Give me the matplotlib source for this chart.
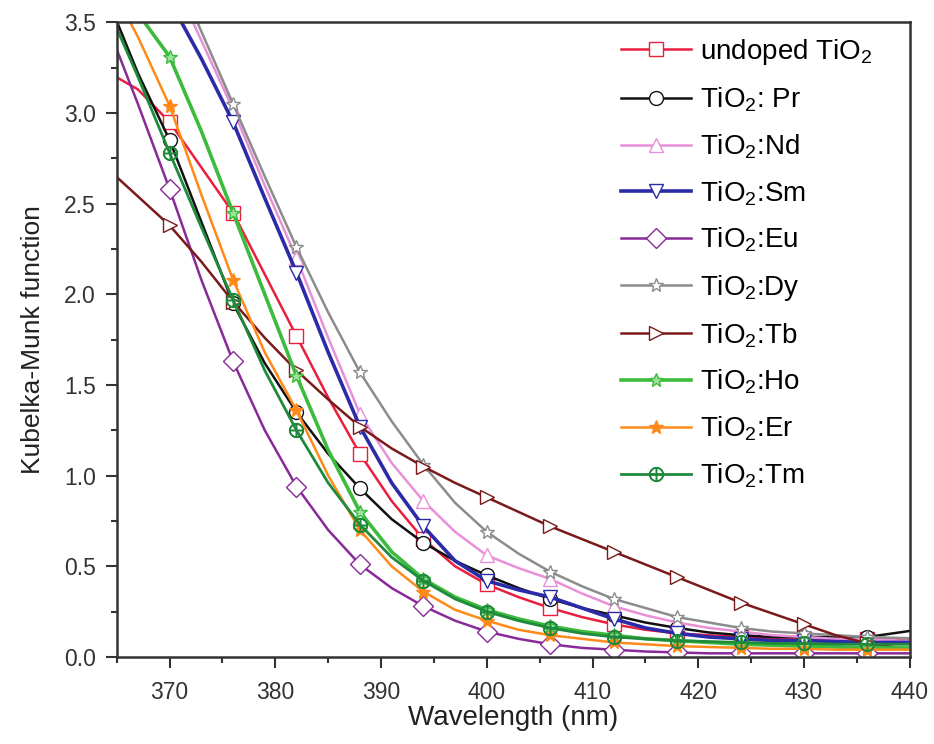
import numpy as np
import matplotlib
matplotlib.use("Agg")
import matplotlib.pyplot as plt
from matplotlib.ticker import MultipleLocator

plt.rcParams['font.family'] = ['Liberation Sans', 'DejaVu Sans']
plt.rcParams['mathtext.fontset'] = 'custom'
plt.rcParams['mathtext.rm'] = 'Liberation Sans'
plt.rcParams['mathtext.it'] = 'Liberation Sans:italic'

# Wavelength grid (nm), read every 3 nm off the picture
wavelength = np.arange(364, 443, 3)

undoped = [3.23, 3.13, 2.95, 2.70, 2.45, 2.11, 1.77, 1.43, 1.12, 0.86, 0.65,
           0.50, 0.40, 0.33, 0.27, 0.22, 0.18, 0.15, 0.13, 0.12, 0.11, 0.10,
           0.10, 0.10, 0.10, 0.10, 0.10]
pr = [3.65, 3.22, 2.85, 2.40, 1.95, 1.62, 1.35, 1.12, 0.93, 0.76, 0.63,
      0.53, 0.45, 0.38, 0.32, 0.27, 0.23, 0.19, 0.16, 0.135, 0.12, 0.11,
      0.11, 0.11, 0.11, 0.135, 0.16]
nd = [4.50, 4.15, 3.78, 3.40, 3.02, 2.60, 2.20, 1.76, 1.34, 1.07, 0.86,
      0.69, 0.56, 0.49, 0.43, 0.35, 0.28, 0.23, 0.19, 0.16, 0.14, 0.12,
      0.11, 0.10, 0.10, 0.09, 0.09]
sm = [4.30, 3.95, 3.62, 3.30, 2.95, 2.53, 2.12, 1.68, 1.27, 0.96, 0.72,
      0.53, 0.42, 0.37, 0.33, 0.27, 0.21, 0.16, 0.13, 0.11, 0.10, 0.09,
      0.09, 0.085, 0.08, 0.08, 0.08]
eu = [3.50, 3.05, 2.58, 2.08, 1.63, 1.25, 0.94, 0.70, 0.51, 0.38, 0.28,
      0.20, 0.14, 0.10, 0.07, 0.05, 0.04, 0.03, 0.025, 0.02, 0.02, 0.02,
      0.02, 0.02, 0.02, 0.02, 0.02]
dy = [4.55, 4.20, 3.85, 3.45, 3.05, 2.65, 2.26, 1.90, 1.57, 1.30, 1.06,
      0.85, 0.69, 0.57, 0.47, 0.39, 0.32, 0.27, 0.22, 0.19, 0.16, 0.14,
      0.13, 0.12, 0.11, 0.105, 0.10]
tb = [2.70, 2.54, 2.38, 2.18, 1.96, 1.76, 1.58, 1.42, 1.27, 1.15, 1.05,
      0.96, 0.88, 0.80, 0.72, 0.65, 0.58, 0.51, 0.44, 0.37, 0.30, 0.24,
      0.18, 0.12, 0.075, 0.05, 0.04]
ho = [3.70, 3.55, 3.31, 2.90, 2.45, 2.00, 1.55, 1.14, 0.80, 0.58, 0.43,
      0.33, 0.26, 0.21, 0.17, 0.14, 0.12, 0.10, 0.09, 0.08, 0.07, 0.065,
      0.06, 0.055, 0.05, 0.05, 0.05]
er = [3.75, 3.42, 3.04, 2.55, 2.08, 1.68, 1.36, 1.00, 0.70, 0.50, 0.36,
      0.26, 0.20, 0.15, 0.12, 0.10, 0.08, 0.07, 0.06, 0.055, 0.05, 0.045,
      0.045, 0.04, 0.04, 0.04, 0.04]
tm = [3.60, 3.20, 2.78, 2.37, 1.97, 1.58, 1.25, 0.96, 0.73, 0.55, 0.42,
      0.32, 0.25, 0.20, 0.16, 0.13, 0.11, 0.10, 0.09, 0.085, 0.08, 0.075,
      0.075, 0.07, 0.07, 0.07, 0.07]

labels = ["undoped TiO$_2$", "TiO$_2$: Pr", "TiO$_2$:Nd", "TiO$_2$:Sm",
          "TiO$_2$:Eu", "TiO$_2$:Dy", "TiO$_2$:Tb", "TiO$_2$:Ho",
          "TiO$_2$:Er", "TiO$_2$:Tm"]
series = [undoped, pr, nd, sm, eu, dy, tb, ho, er, tm]

# (line colour, marker, marker face, line width)
styles = [
    ('#ea1f3d', 's', 'white', 1.8),
    ('#111111', 'o', 'white', 1.8),
    ('#e890d8', '^', 'white', 1.8),
    ('#2b2ba8', 'v', 'white', 2.6),
    ('#882a98', 'D', 'white', 1.8),
    ('#8c8c8c', '*', 'white', 1.8),
    ('#7a1a1a', '>', 'white', 1.8),
    ('#3dbb3d', '*', '#9be39b', 2.6),
    ('#ff8a1a', '*', '#ff8a1a', 1.8),
    ('#1f8a3c', r'$\oplus$', 'none', 2.0),
]

fig, ax = plt.subplots(figsize=(9.34, 7.44), dpi=100)
fig.subplots_adjust(left=0.125, right=0.974, bottom=0.117, top=0.970)

for vals, lab, (col, mk, face, lw) in zip(series, labels, styles):
    ax.plot(wavelength, vals, color=col, lw=lw, marker=mk, markersize=10,
            markerfacecolor=face, markeredgecolor=col, markeredgewidth=1.0,
            markevery=slice(2, 25, 2), label=lab)

ax.set_xlim(365, 440)
ax.set_ylim(0, 3.5)
ax.xaxis.set_major_locator(MultipleLocator(10))
ax.xaxis.set_minor_locator(MultipleLocator(5))
ax.yaxis.set_major_locator(MultipleLocator(0.5))
ax.yaxis.set_minor_locator(MultipleLocator(0.25))
ax.tick_params(which='both', direction='out', width=1.5, labelsize=16.5,
               top=False, right=False, colors='#333333')
ax.tick_params(axis='x', which='major', length=8, pad=9)
ax.tick_params(axis='y', which='major', length=8, pad=7)
ax.tick_params(which='minor', length=4)
for sp in ax.spines.values():
    sp.set_linewidth(1.8)
    sp.set_color('#333333')

ax.set_xlabel("Wavelength (nm)", fontsize=20, color='#222222', labelpad=1)
ax.set_ylabel("Kubelka-Munk function", fontsize=19, color='#222222',
              labelpad=14)

ax.legend(loc='upper left', bbox_to_anchor=(0.615, 1.003), frameon=False,
          fontsize=20, handlelength=2.5, labelspacing=0.66,
          handletextpad=0.35, borderaxespad=0.2)

plt.savefig("out.png", dpi=100)
